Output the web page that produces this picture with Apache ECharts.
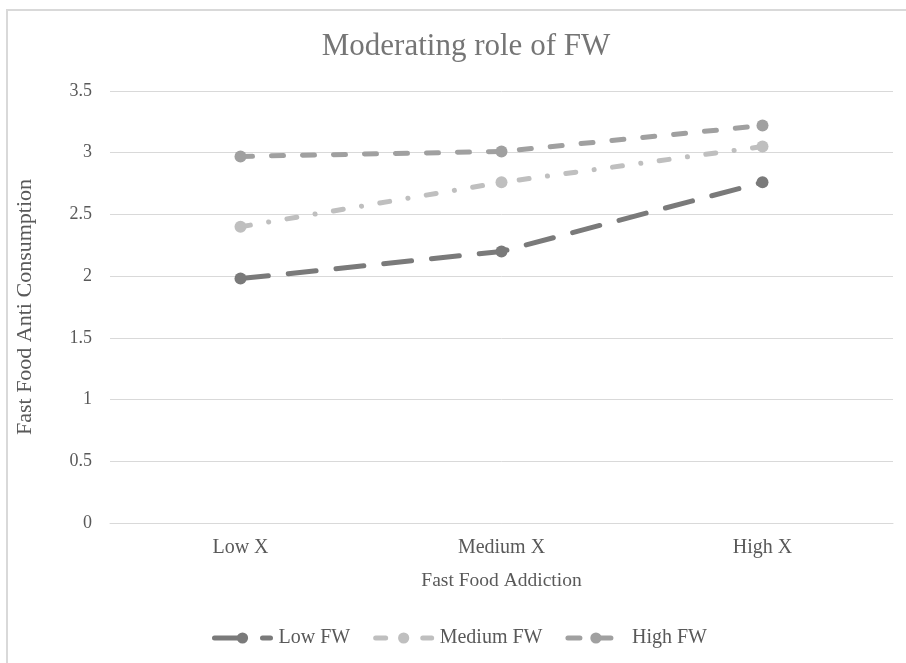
<!DOCTYPE html>
<html><head><meta charset="utf-8">
<script src="https://cdn.jsdelivr.net/npm/echarts@6/dist/echarts.min.js"></script>
<style>html,body{margin:0;padding:0;background:#fff}#c{width:906px;height:663px}</style>
</head><body><div id="c"></div>
<script>
const categories = ['Low X', 'Medium X', 'High X'];
const lowFW = [1.98, 2.20, 2.76];
const mediumFW = [2.40, 2.76, 3.05];
const highFW = [2.97, 3.01, 3.22];
const yTicks = {min: 0, max: 3.5, interval: 0.5};

const font = 'Liberation Serif, Times New Roman, serif';
const chart = echarts.init(document.getElementById('c'));
chart.setOption({
  animation: false,
  backgroundColor: '#fff',
  textStyle: {fontFamily: font},
  title: {text: 'Moderating role of FW', left: 461, top: 26, textAlign: 'center',
    textStyle: {fontFamily: font, fontSize: 31, fontWeight: 'normal', color: '#757575'}},
  graphic: [{type: 'polyline', shape: {points: [[7, 700], [7, 10], [940, 10]]},
    style: {stroke: '#d9d9d9', lineWidth: 2, fill: null}, silent: true}],
  grid: {left: 110, right: 13, top: 91, bottom: 140},
  legend: {top: 623, left: 207, itemWidth: 56, itemHeight: 14, itemGap: 23,
    lineStyle: {width: 5},
    textStyle: {fontFamily: font, fontSize: 20, color: '#595959', padding: [0, 0, 0, 3]},
    data: ['Low FW', 'Medium FW', 'High FW']},
  xAxis: {type: 'category', data: categories, boundaryGap: true,
    axisLine: {lineStyle: {color: '#d9d9d9', width: 1}}, axisTick: {show: false},
    axisLabel: {fontFamily: font, fontSize: 20, color: '#595959', margin: 15},
    name: 'Fast Food Addiction', nameLocation: 'middle', nameGap: 48,
    nameTextStyle: {fontFamily: font, fontSize: 19.5, color: '#595959'}},
  yAxis: {type: 'value', min: yTicks.min, max: yTicks.max, interval: yTicks.interval,
    axisLine: {show: false}, axisTick: {show: false},
    splitLine: {lineStyle: {color: '#d9d9d9', width: 1}},
    axisLabel: {fontFamily: font, fontSize: 18, color: '#595959', margin: 18},
    name: 'Fast Food Anti Consumption', nameLocation: 'middle', nameGap: 74,
    nameTextStyle: {fontFamily: font, fontSize: 22, color: '#595959'}},
  series: [
    {name: 'Low FW', type: 'line', data: lowFW, symbol: 'circle', symbolSize: 12,
      itemStyle: {color: '#7a7a7a'},
      lineStyle: {color: '#7a7a7a', width: 5, type: [28, 20], cap: 'round'}},
    {name: 'Medium FW', type: 'line', data: mediumFW, symbol: 'circle', symbolSize: 12,
      itemStyle: {color: '#bfbfbf'},
      lineStyle: {color: '#bfbfbf', width: 5, type: [10, 18.5, 0.1, 18.5], cap: 'round'}},
    {name: 'High FW', type: 'line', data: highFW, symbol: 'circle', symbolSize: 12,
      itemStyle: {color: '#a0a0a0'},
      lineStyle: {color: '#a0a0a0', width: 5, type: [12, 19], cap: 'round'}}
  ]
});
</script></body></html>
